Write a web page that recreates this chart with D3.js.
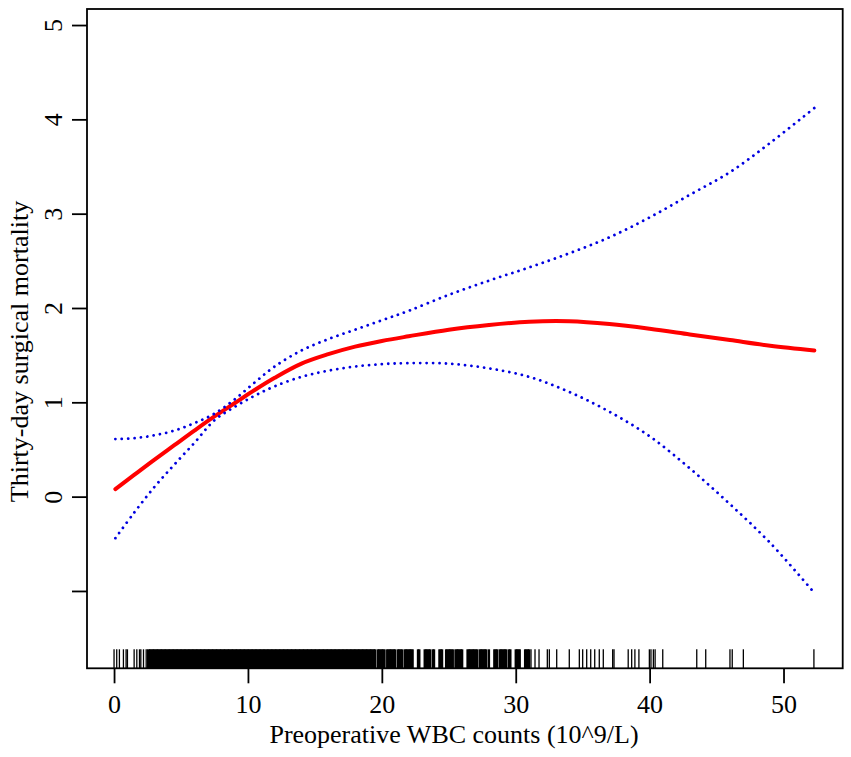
<!DOCTYPE html>
<html>
<head>
<meta charset="utf-8">
<script src="https://cdn.jsdelivr.net/npm/d3@7"></script>
<style>
  body { margin: 0; background: #fff; }
  text { font-family: "Liberation Serif", "Times New Roman", serif; fill: #000; }
</style>
</head>
<body>
<div id="chart"></div>
<script>
// WBC grid (10^9/L) the smooth curves are read at
var wbcGrid = [0.1, 1.5, 3, 4.5, 6, 7.5, 9, 10.5, 12, 14, 16, 18, 20, 22, 25, 28, 31, 34, 37, 40, 43, 46, 49, 52.3];
// fitted curve and its 95% band
var fitValues = [0.08, 0.23, 0.39, 0.545, 0.70, 0.85, 0.99, 1.13, 1.26, 1.41, 1.51, 1.59, 1.65, 1.70, 1.77, 1.82, 1.855, 1.86, 1.83, 1.78, 1.72, 1.66, 1.60, 1.55];
var upperValues = [0.61, 0.62, 0.65, 0.70, 0.78, 0.88, 1.03, 1.21, 1.38, 1.55, 1.67, 1.77, 1.87, 1.97, 2.14, 2.29, 2.43, 2.58, 2.75, 2.96, 3.20, 3.44, 3.75, 4.12];
var lowerValues = [-0.44, -0.17, 0.10, 0.34, 0.57, 0.81, 0.95, 1.07, 1.17, 1.27, 1.335, 1.38, 1.405, 1.415, 1.41, 1.36, 1.27, 1.11, 0.90, 0.64, 0.30, -0.08, -0.49, -1.02];

// rug of observed WBC counts
var rugLow = [0, 0.2, 0.4, 0.7, 0.9, 1.0, 1.5, 1.7, 1.9, 2.0, 2.2, 2.4, 2.5];
var rugDense = [2.6, 2.7, 2.8, 2.9, 3, 3.1, 3.2, 3.3, 3.4, 3.5, 3.6, 3.7, 3.8, 3.9,
  4, 4.1, 4.2, 4.3, 4.4, 4.5, 4.6, 4.7, 4.8, 4.9, 5, 5.1, 5.2, 5.3, 5.4, 5.5, 5.6, 5.7, 5.8, 5.9,
  6, 6.1, 6.2, 6.3, 6.4, 6.5, 6.6, 6.7, 6.8, 6.9, 7, 7.1, 7.2, 7.3, 7.4, 7.5, 7.6, 7.7, 7.8, 7.9,
  8, 8.1, 8.2, 8.3, 8.4, 8.5, 8.6, 8.7, 8.8, 8.9, 9, 9.1, 9.2, 9.3, 9.4, 9.5, 9.6, 9.7, 9.8, 9.9,
  10, 10.1, 10.2, 10.3, 10.4, 10.5, 10.6, 10.7, 10.8, 10.9, 11, 11.1, 11.2, 11.3, 11.4, 11.5, 11.6, 11.7, 11.8, 11.9,
  12, 12.1, 12.2, 12.3, 12.4, 12.5, 12.6, 12.7, 12.8, 12.9, 13, 13.1, 13.2, 13.3, 13.4, 13.5, 13.6, 13.7, 13.8, 13.9,
  14, 14.1, 14.2, 14.3, 14.4, 14.5, 14.6, 14.7, 14.8, 14.9, 15, 15.1, 15.2, 15.3, 15.4, 15.5, 15.6, 15.7, 15.8, 15.9,
  16, 16.1, 16.2, 16.3, 16.4, 16.5, 16.6, 16.7, 16.8, 16.9, 17, 17.1, 17.2, 17.3, 17.4, 17.5, 17.6, 17.7, 17.8, 17.9,
  18, 18.1, 18.2, 18.3, 18.4, 18.5, 18.6, 18.7, 18.8, 18.9, 19, 19.1, 19.2, 19.3, 19.4, 19.5];
var rugMid = [19.7, 19.8, 19.9, 20.0, 20.1, 20.2, 20.4, 20.5, 20.6, 20.7, 20.8, 20.9, 21.0, 21.2, 21.3, 21.4, 21.5,
  21.7, 21.8, 21.9, 22.0, 22.1, 22.2, 22.3, 22.7, 22.8, 23.2, 23.3, 23.4, 23.5, 23.6, 23.8, 23.9, 24.3, 24.4, 24.5,
  24.8, 24.9, 25.0, 25.1, 25.2, 25.3, 25.5, 25.6, 25.7, 25.8, 25.9, 26.0, 26.4, 26.5, 26.6, 26.7, 26.8, 26.9, 27.0,
  27.1, 27.3, 27.4, 27.5, 27.6, 27.7, 27.8, 28.0, 28.4, 28.5, 28.6, 28.8, 28.9, 29.0, 29.1, 29.2, 29.3, 29.5, 29.6,
  30.0, 30.1, 30.2, 30.3, 30.7, 30.8, 30.9, 31.0];
var rugHigh = [31.14, 31.44, 31.74, 32.36, 32.51, 33.06, 34.0, 34.75, 35.0, 35.3, 35.6, 35.9, 36.24, 36.54, 37.24, 37.34,
  38.4, 38.66, 38.9, 39.2, 39.98, 40.1, 40.28, 40.41, 40.98, 43.52, 44.19, 46.0, 46.17, 47.0, 52.27];

var xTicks = [0, 10, 20, 30, 40, 50];
var yTicks = [-1, 0, 1, 2, 3, 4, 5];
var yTickLabels = ["", "0", "1", "2", "3", "4", "5"];
var xTitle = "Preoperative WBC counts (10^9/L)";
var yTitle = "Thirty-day surgical mortality";

var width = 851;
var height = 757;
var box = { left: 87, right: 842.7, top: 9, bottom: 668.3 };
var fontSize = '26px';

var svg = d3.select('#chart')
    .append('svg')
    .attr('width', width)
    .attr('height', height)
    .style('background', 'white');

// scales, domain stretched a bit past the data like R does
var x = d3.scaleLinear()
    .domain([-2.02, 54.42])
    .range([box.left, box.right]);
var y = d3.scaleLinear()
    .domain([-1.82, 5.17])
    .range([box.bottom, box.top]);

// rug along the bottom, denser runs drawn a bit wider so they close up
function drawRug(values, lineWidth) {
    svg.append('g')
        .selectAll('line')
        .data(values).enter()
        .append('line')
        .attr('x1', function (d) { return x(d); })
        .attr('x2', function (d) { return x(d); })
        .attr('y1', box.bottom - 19)
        .attr('y2', box.bottom)
        .attr('stroke', '#000')
        .attr('stroke-width', lineWidth);
}
drawRug(rugLow, 1.3);
drawRug(rugDense, 2.4);
drawRug(rugMid, 2.3);
drawRug(rugHigh, 1.3);

function curveLine(values) {
    return d3.line()
        .x(function (d, i) { return x(wbcGrid[i]); })
        .y(function (d) { return y(d); })
        .curve(d3.curveCatmullRom.alpha(0.5))(values);
}

// fitted curve
svg.append('path')
    .attr('d', curveLine(fitValues))
    .attr('fill', 'none')
    .attr('stroke', '#ff0000')
    .attr('stroke-width', 4)
    .attr('stroke-linecap', 'round');

// confidence band, dotted
[upperValues, lowerValues].forEach(function (vals) {
    svg.append('path')
        .attr('d', curveLine(vals))
        .attr('fill', 'none')
        .attr('stroke', '#0000e0')
        .attr('stroke-width', 2.8)
        .attr('stroke-linecap', 'round')
        .attr('stroke-dasharray', '0.01 6.4');
});

// x axis
var xAxis = svg.append('g')
    .attr('transform', 'translate(0,' + box.bottom + ')')
    .call(d3.axisBottom(x).tickValues(xTicks).tickSize(15).tickSizeOuter(0));
xAxis.select('.domain').remove();
xAxis.selectAll('.tick line').attr('stroke', '#000').attr('stroke-width', 1.8);
xAxis.selectAll('.tick text')
    .attr('y', 44.7)
    .attr('dy', 0)
    .style('font-size', fontSize)
    .style('font-family', '"Liberation Serif", serif');

// y axis, labels turned like R's las=0
var yAxis = svg.append('g')
    .attr('transform', 'translate(' + box.left + ',0)')
    .call(d3.axisLeft(y).tickValues(yTicks).tickSize(15).tickSizeOuter(0)
        .tickFormat(function (d, i) { return yTickLabels[i]; }));
yAxis.select('.domain').remove();
yAxis.selectAll('.tick line').attr('stroke', '#000').attr('stroke-width', 1.8);
yAxis.selectAll('.tick text')
    .attr('transform', 'rotate(-90)')
    .attr('x', 0)
    .attr('y', -25)
    .attr('dy', 0)
    .attr('text-anchor', 'middle')
    .style('font-size', fontSize)
    .style('font-family', '"Liberation Serif", serif');

// frame around plot
svg.append('rect')
    .attr('x', box.left)
    .attr('y', box.top)
    .attr('width', box.right - box.left)
    .attr('height', box.bottom - box.top)
    .attr('fill', 'none')
    .attr('stroke', '#000')
    .attr('stroke-width', 1.8);

// axis titles
svg.append('text')
    .attr('x', 454)
    .attr('y', 743)
    .attr('text-anchor', 'middle')
    .style('font-size', fontSize)
    .text(xTitle);
svg.append('text')
    .attr('transform', 'translate(28,351.5) rotate(-90)')
    .attr('text-anchor', 'middle')
    .style('font-size', fontSize)
    .text(yTitle);
</script>
</body>
</html>
